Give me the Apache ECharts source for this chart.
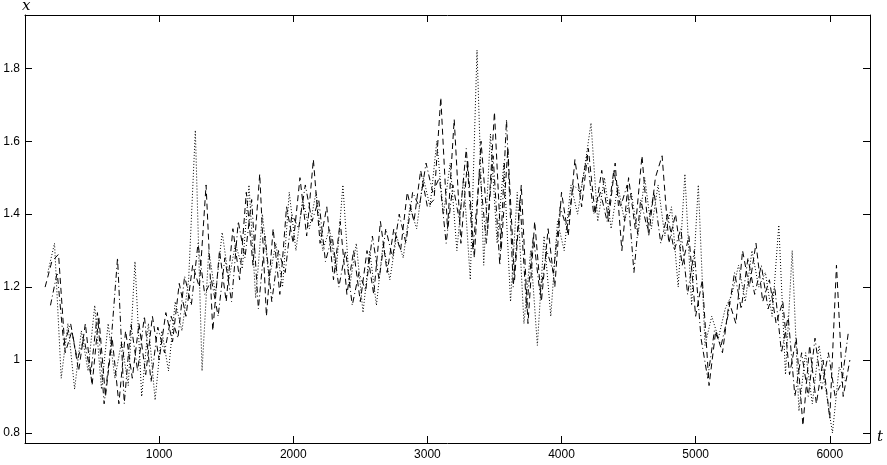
<!DOCTYPE html>
<html>
<head>
<meta charset="utf-8">
<script src="https://cdn.jsdelivr.net/npm/echarts@6/dist/echarts.min.js"></script>
<style>
html,body{margin:0;padding:0;background:#fff;}
#chartDiv{width:887px;height:465px;}
</style>
</head>
<body>
<div id="chartDiv"></div>
<script>
var xTicks = [1000, 2000, 3000, 4000, 5000, 6000];
var yTicks = [0.8, 1, 1.2, 1.4, 1.6, 1.8];

// dashed curve, t = 150, 200, ... 6150
var dashStart = 150;
var dashVals = [1.20,1.27,1.29,1.02,1.08,0.97,1.10,0.93,1.12,0.90,
	1.06,0.88,1.08,0.95,1.10,0.96,1.12,1.00,1.13,1.05,
	1.21,1.12,1.26,1.20,1.48,1.08,1.30,1.16,1.36,1.22,
	1.46,1.26,1.51,1.12,1.36,1.18,1.42,1.32,1.50,1.34,
	1.55,1.32,1.42,1.22,1.38,1.18,1.30,1.16,1.30,1.18,
	1.38,1.24,1.36,1.30,1.46,1.38,1.52,1.42,1.44,1.72,
	1.36,1.66,1.32,1.55,1.28,1.60,1.36,1.68,1.30,1.58,
	1.22,1.48,1.10,1.38,1.16,1.36,1.20,1.46,1.34,1.55,
	1.42,1.58,1.40,1.52,1.38,1.54,1.30,1.50,1.36,1.56,
	1.34,1.50,1.56,1.32,1.40,1.26,1.34,1.12,1.22,0.93,
	1.08,1.02,1.16,1.10,1.30,1.20,1.32,1.16,1.22,1.10,
	1.16,0.96,1.06,0.82,1.04,0.88,1.00,0.84,1.26,0.90,
	1.00];

// dotted curve, t = 170, 220, ... 6120
var dotStart = 170;
var dotVals = [1.24,1.32,0.95,1.10,0.92,1.08,0.97,1.15,0.92,1.10,
	0.95,1.05,0.93,1.27,0.90,1.10,0.89,1.08,0.97,1.16,
	1.08,1.22,1.63,0.97,1.30,1.18,1.35,1.22,1.32,1.25,
	1.48,1.17,1.40,1.22,1.32,1.20,1.46,1.30,1.44,1.36,
	1.46,1.30,1.36,1.24,1.48,1.20,1.32,1.13,1.30,1.15,
	1.32,1.22,1.34,1.28,1.42,1.36,1.50,1.42,1.60,1.40,
	1.54,1.30,1.50,1.22,1.85,1.26,1.62,1.32,1.54,1.16,
	1.46,1.10,1.30,1.04,1.34,1.12,1.38,1.30,1.48,1.40,
	1.52,1.65,1.38,1.50,1.36,1.48,1.38,1.46,1.34,1.50,
	1.36,1.48,1.34,1.42,1.20,1.51,1.15,1.48,1.04,1.12,
	1.06,1.14,1.18,1.26,1.16,1.30,1.20,1.24,1.12,1.37,
	0.96,1.30,0.86,1.02,0.88,1.04,0.92,0.80,0.98,0.94];

// dash-dot curve, t = 190, 240, ... 6140
var dashDotStart = 190;
var dashDotVals = [1.15,1.24,1.04,1.10,1.00,1.06,0.96,1.13,0.88,1.04,
	1.28,0.88,1.10,0.97,1.12,0.94,1.09,1.02,1.12,1.06,
	1.23,1.15,1.32,1.18,1.22,1.12,1.28,1.16,1.38,1.28,
	1.44,1.14,1.34,1.16,1.30,1.24,1.40,1.36,1.48,1.38,
	1.44,1.27,1.34,1.20,1.30,1.15,1.24,1.19,1.34,1.22,
	1.36,1.28,1.40,1.32,1.46,1.42,1.54,1.46,1.50,1.32,
	1.48,1.38,1.58,1.30,1.52,1.32,1.56,1.26,1.66,1.20,
	1.44,1.14,1.34,1.18,1.30,1.24,1.42,1.36,1.48,1.46,
	1.56,1.40,1.46,1.38,1.52,1.42,1.48,1.24,1.44,1.36,
	1.46,1.32,1.40,1.30,1.36,1.18,1.30,1.06,0.95,1.08,
	1.04,1.12,1.24,1.14,1.28,1.18,1.26,1.14,1.20,1.02,
	1.12,0.90,1.02,0.90,1.06,0.92,1.02,0.90,0.94,1.08];

var STEP = 50;

function toPairs(start, vals){
	var out = [];
	for (var i = 0; i < vals.length; i++) {
		out.push([start + i * STEP, vals[i]]);
	}
	return out;
}

function lineSeries(data, dash){
	return {
		type: 'line',
		data: data,
		symbol: 'none',
		xAxisIndex: 0,
		yAxisIndex: 0,
		lineStyle: {color: '#000', width: 1, type: dash}
	};
}

var fontFam = 'Liberation Sans, Arial, sans-serif';

var boxLine = {show: true, onZero: false, lineStyle: {color: '#000', width: 1}};

var chart = echarts.init(document.getElementById('chartDiv'), null, {renderer: 'canvas'});

var option = {
	animation: false,
	backgroundColor: '#fff',
	grid: {left: 25, right: 17, top: 15, bottom: 22, containLabel: false},
	xAxis: [
		{
			type: 'value', min: 0, max: 6300, position: 'bottom',
			axisLine: boxLine,
			axisTick: {show: true, inside: true, length: 7, customValues: xTicks, lineStyle: {color: '#000'}},
			axisLabel: {
				customValues: xTicks, color: '#000', fontSize: 12, fontFamily: fontFam, margin: 6,
				formatter: function(v){ return String(v); }
			},
			splitLine: {show: false}
		},
		{
			type: 'value', min: 0, max: 6300, position: 'top',
			axisLine: boxLine,
			axisTick: {show: true, inside: true, length: 7, customValues: xTicks, lineStyle: {color: '#000'}},
			axisLabel: {show: false},
			splitLine: {show: false}
		}
	],
	yAxis: [
		{
			type: 'value', min: 0.7725, max: 1.946, position: 'left',
			axisLine: boxLine,
			axisTick: {show: true, inside: true, length: 7, customValues: yTicks, lineStyle: {color: '#000'}},
			axisLabel: {
				customValues: yTicks, color: '#000', fontSize: 12, fontFamily: fontFam, margin: 5,
				formatter: function(v){ return String(Math.round(v * 10) / 10); }
			},
			splitLine: {show: false}
		},
		{
			type: 'value', min: 0.7725, max: 1.946, position: 'right',
			axisLine: boxLine,
			axisTick: {show: true, inside: true, length: 7, customValues: yTicks, lineStyle: {color: '#000'}},
			axisLabel: {show: false},
			splitLine: {show: false}
		}
	],
	graphic: [
		{type: 'text', left: 22, top: -1, style: {text: 'x', font: 'italic 15px "DejaVu Serif", serif', fill: '#000'}},
		{type: 'text', left: 877, top: 430, style: {text: 't', font: 'italic 15px "DejaVu Serif", serif', fill: '#000'}}
	],
	series: [
		lineSeries(toPairs(dotStart, dotVals), [1, 2]),
		lineSeries(toPairs(dashDotStart, dashDotVals), [6, 3, 1, 3]),
		lineSeries(toPairs(dashStart, dashVals), [6, 4])
	]
};

chart.setOption(option);
</script>
</body>
</html>
